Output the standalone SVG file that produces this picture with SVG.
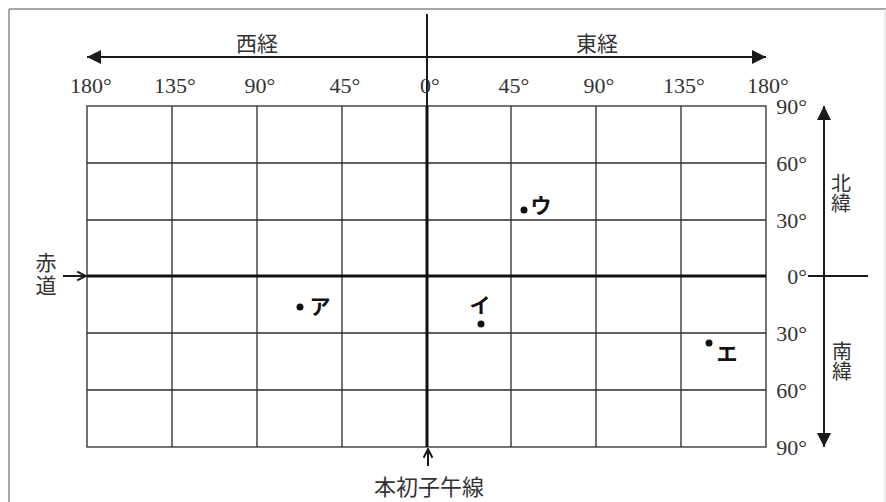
<svg xmlns="http://www.w3.org/2000/svg" width="886" height="502" viewBox="0 0 886 502">
<style>
.frame{stroke:#8a8a8a;stroke-width:1.5;fill:none}
.grid{stroke:#2a2a2a;stroke-width:1.3;fill:none}
.thick{stroke:#111;stroke-width:3;fill:none}
.ax{stroke:#1a1a1a;stroke-width:2;fill:none}
.deg{font-family:"Liberation Serif",serif;font-size:22px;fill:#333}
.jp{font-family:"Noto Sans CJK JP",sans-serif;font-size:21px;fill:#333;text-anchor:middle;dominant-baseline:central}
.vjp{font-family:"Noto Sans CJK JP",sans-serif;font-size:20px;fill:#333;writing-mode:vertical-rl;text-anchor:start}
.kana{font-family:"Noto Sans CJK JP",sans-serif;font-size:21px;font-weight:bold;fill:#111;text-anchor:middle;dominant-baseline:central}
.dot{fill:#111}
</style>
<defs>
<marker id="tri" viewBox="0 0 10 10" refX="10" refY="5" markerWidth="14" markerHeight="14" markerUnits="userSpaceOnUse" orient="auto"><path d="M0,0 L10,5 L0,10 z" fill="#1a1a1a"/></marker>
<marker id="open" viewBox="0 0 10 10" refX="9" refY="5" markerWidth="11" markerHeight="11" markerUnits="userSpaceOnUse" orient="auto"><path d="M1,1 L9,5 L1,9" fill="none" stroke="#1a1a1a" stroke-width="1.8"/></marker>
</defs>

<g id="frame">
<line class="frame" x1="9" y1="9" x2="886" y2="9"/>
<line class="frame" x1="9" y1="9" x2="9" y2="502"/>
<line x1="885" y1="9" x2="885" y2="502" stroke="#d8d8d8" stroke-width="1"/>
</g>

<g id="grid">
<rect class="grid" x="87" y="106" width="679" height="341"/>
<line class="grid" x1="172" y1="106" x2="172" y2="447"/>
<line class="grid" x1="257" y1="106" x2="257" y2="447"/>
<line class="grid" x1="342" y1="106" x2="342" y2="447"/>
<line class="grid" x1="511" y1="106" x2="511" y2="447"/>
<line class="grid" x1="596" y1="106" x2="596" y2="447"/>
<line class="grid" x1="681" y1="106" x2="681" y2="447"/>
<line class="grid" x1="87" y1="163" x2="766" y2="163"/>
<line class="grid" x1="87" y1="220" x2="766" y2="220"/>
<line class="grid" x1="87" y1="333" x2="766" y2="333"/>
<line class="grid" x1="87" y1="390" x2="766" y2="390"/>
<line class="thick" x1="427" y1="106" x2="427" y2="447"/>
<line class="thick" x1="87" y1="276" x2="766" y2="276"/>
</g>

<g id="connectors">
<line class="ax" x1="427" y1="14" x2="427" y2="106"/>
<line class="ax" x1="427" y1="57" x2="87" y2="57" marker-end="url(#tri)"/>
<line class="ax" x1="427" y1="57" x2="766" y2="57" marker-end="url(#tri)"/>
<line class="ax" x1="824" y1="276" x2="824" y2="106" marker-end="url(#tri)"/>
<line class="ax" x1="824" y1="276" x2="824" y2="447" marker-end="url(#tri)"/>
<line class="ax" x1="808" y1="276" x2="868" y2="276"/>
<line class="ax" x1="63" y1="276" x2="86" y2="276" marker-end="url(#open)"/>
<line class="ax" x1="428" y1="466" x2="428" y2="449" marker-end="url(#open)"/>
</g>

<g id="lon-labels" class="deg" text-anchor="middle">
<text x="91" y="93">180°</text>
<text x="175" y="93">135°</text>
<text x="260" y="93">90°</text>
<text x="345" y="93">45°</text>
<text x="430" y="93">0°</text>
<text x="514" y="93">45°</text>
<text x="599" y="93">90°</text>
<text x="684" y="93">135°</text>
<text x="768" y="93">180°</text>
</g>

<g id="lat-labels" class="deg" text-anchor="end">
<text x="807" y="114">90°</text>
<text x="807" y="171">60°</text>
<text x="807" y="228">30°</text>
<text x="807" y="284">0°</text>
<text x="807" y="341">30°</text>
<text x="807" y="398">60°</text>
<text x="807" y="455">90°</text>
</g>

<g id="west"><text class="jp" x="257" y="42">西経</text></g>
<g id="east"><text class="jp" x="597" y="42">東経</text></g>
<g id="north"><text class="vjp" x="841" y="173">北緯</text></g>
<g id="south"><text class="vjp" x="842" y="341">南緯</text></g>
<g id="equator"><text class="vjp" x="46" y="252" style="font-size:21px;letter-spacing:2px">赤道</text></g>
<g id="prime-meridian"><text class="jp" x="429" y="485" style="font-size:22px">本初子午線</text></g>

<g id="point-a"><circle class="dot" cx="300" cy="307" r="3.5"/><text class="kana" x="320" y="305">ア</text></g>
<g id="point-i"><circle class="dot" cx="481" cy="324" r="3.5"/><text class="kana" x="480" y="304">イ</text></g>
<g id="point-u"><circle class="dot" cx="524" cy="210" r="3.5"/><text class="kana" x="541" y="204">ウ</text></g>
<g id="point-e"><circle class="dot" cx="709" cy="343" r="3.5"/><text class="kana" x="727" y="352">エ</text></g>
</svg>
